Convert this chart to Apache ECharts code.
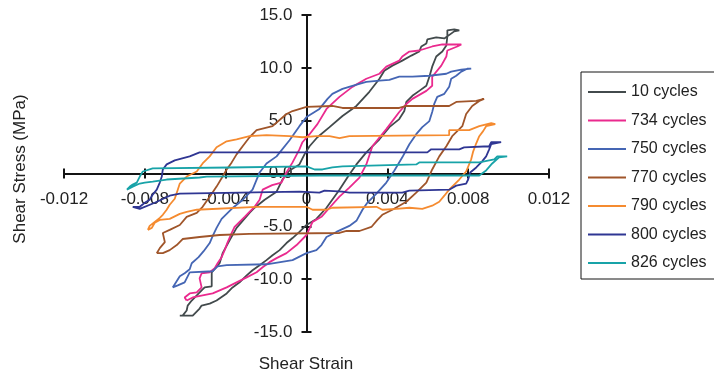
<!DOCTYPE html>
<html>
<head>
<meta charset="utf-8">
<script src="https://cdn.jsdelivr.net/npm/echarts@6/dist/echarts.min.js"></script>
<style>
  html, body { margin: 0; padding: 0; background: #ffffff; }
  #chart { width: 714px; height: 372px; }
</style>
</head>
<body>
<div id="chart"></div>
<script>
// Shear stress–strain hysteresis loops at several cycle counts.
const seriesNames = ['10 cycles', '734 cycles', '750 cycles', '770 cycles', '790 cycles', '800 cycles', '826 cycles'];

// [shear strain, shear stress (MPa)]
const loop10 = [
  [-0.00627, -13.45], [-0.00563, -13.45], [-0.00529, -12.78], [-0.00519, -12.50], [-0.00479, -12.31],
  [-0.00445, -12.02], [-0.00395, -11.35], [-0.00366, -10.78], [-0.00331, -10.30], [-0.00296, -9.64],
  [-0.00267, -9.16], [-0.00232, -8.68], [-0.00198, -8.20], [-0.00168, -7.73], [-0.00133, -7.25],
  [-0.00099, -6.58], [-0.00069, -6.11], [-0.00035, -5.53], [0.00000, -4.87], [0.00049, -4.30],
  [0.00099, -3.24], [0.00163, -1.53], [0.00212, -0.10],
  [0.00247, 0.86], [0.00296, 2.00], [0.00361, 3.24], [0.00410, 4.39], [0.00459, 5.15],
  [0.00484, 5.91], [0.00494, 6.77], [0.00524, 7.35], [0.00558, 7.82], [0.00593, 8.30],
  [0.00608, 9.16], [0.00622, 10.11], [0.00642, 11.07], [0.00672, 11.54], [0.00692, 12.12],
  [0.00697, 12.97], [0.00697, 13.55], [0.00731, 13.64], [0.00756, 13.55],
  [0.00731, 13.45], [0.00682, 12.78], [0.00642, 12.88], [0.00598, 12.69], [0.00593, 12.31],
  [0.00568, 12.02], [0.00558, 11.54], [0.00519, 11.16], [0.00474, 10.68], [0.00425, 10.21],
  [0.00385, 9.73], [0.00361, 8.97], [0.00311, 7.73], [0.00247, 6.39], [0.00178, 5.44],
  [0.00114, 4.39], [0.00054, 3.43], [0.00015, 2.58], [-0.00010, 1.81], [-0.00035, 0.86],
  [-0.00084, 0.29], [-0.00119, -0.57], [-0.00148, -1.72], [-0.00207, -2.48], [-0.00257, -3.24],
  [-0.00282, -3.72], [-0.00346, -5.15], [-0.00380, -6.30], [-0.00415, -7.54], [-0.00430, -8.49],
  [-0.00469, -9.35], [-0.00469, -10.68], [-0.00504, -10.78], [-0.00519, -11.07], [-0.00543, -11.54],
  [-0.00568, -12.02], [-0.00588, -12.50], [-0.00593, -12.97], [-0.00613, -13.45], [-0.00627, -13.45]
];

const loop734 = [
  [-0.00593, -12.02], [-0.00563, -11.73], [-0.00514, -11.54], [-0.00464, -11.35], [-0.00395, -10.78],
  [-0.00346, -10.30], [-0.00296, -9.83], [-0.00247, -9.35], [-0.00217, -8.87], [-0.00183, -8.39],
  [-0.00148, -8.01], [-0.00099, -7.54], [-0.00049, -6.77], [0.00000, -5.82], [0.00030, -4.58],
  [0.00074, -4.10], [0.00114, -3.24], [0.00163, -2.19], [0.00212, -1.34], [0.00262, -0.38],
  [0.00296, 0.86], [0.00326, 2.58], [0.00395, 4.20], [0.00459, 5.82], [0.00494, 6.58],
  [0.00524, 7.06], [0.00593, 7.82], [0.00622, 8.30], [0.00622, 9.16], [0.00667, 10.21],
  [0.00692, 11.07], [0.00697, 11.64], [0.00746, 12.02], [0.00766, 12.21],
  [0.00672, 12.21], [0.00622, 12.02], [0.00558, 11.64], [0.00509, 11.54], [0.00474, 11.07],
  [0.00459, 10.68], [0.00395, 10.11], [0.00361, 9.44], [0.00296, 8.97], [0.00227, 8.20],
  [0.00163, 7.25], [0.00099, 6.11], [0.00054, 4.67], [0.00015, 3.72], [-0.00020, 2.96],
  [-0.00035, 2.29], [-0.00069, 1.05], [-0.00099, 0.10], [-0.00124, -0.86], [-0.00170, -1.10],
  [-0.00217, -1.53], [-0.00232, -2.48], [-0.00257, -3.15], [-0.00282, -3.63],
  [-0.00306, -4.10], [-0.00331, -4.58], [-0.00356, -5.06], [-0.00370, -5.63], [-0.00390, -6.49],
  [-0.00405, -7.25], [-0.00420, -7.92], [-0.00440, -8.49], [-0.00454, -8.97], [-0.00479, -9.35],
  [-0.00519, -9.44], [-0.00529, -9.92], [-0.00519, -10.78], [-0.00543, -11.26], [-0.00578, -11.35],
  [-0.00603, -11.73], [-0.00593, -12.02]
];

const loop750 = [
  [-0.00662, -10.78], [-0.00637, -10.59], [-0.00603, -10.30], [-0.00578, -9.35], [-0.00464, -9.25],
  [-0.00440, -8.78], [-0.00395, -8.68], [-0.00198, -8.59], [-0.00069, -8.20], [0.00000, -7.54],
  [0.00049, -7.25], [0.00074, -6.77], [0.00099, -6.01], [0.00148, -5.53], [0.00212, -4.96],
  [0.00247, -4.48], [0.00277, -3.43], [0.00301, -2.77], [0.00346, -1.91], [0.00395, -0.86],
  [0.00435, 0.29], [0.00474, 1.53], [0.00509, 2.77], [0.00543, 3.72], [0.00573, 4.39],
  [0.00608, 4.96], [0.00622, 5.82], [0.00632, 6.58], [0.00647, 7.25], [0.00682, 7.54],
  [0.00706, 8.20], [0.00716, 8.97], [0.00741, 9.25], [0.00766, 9.64], [0.00795, 9.92], [0.00815, 9.92],
  [0.00766, 9.83], [0.00716, 9.64], [0.00692, 9.44], [0.00608, 9.25], [0.00524, 9.16],
  [0.00459, 9.16], [0.00410, 8.87], [0.00361, 8.78], [0.00296, 8.68], [0.00227, 8.30],
  [0.00178, 8.01], [0.00128, 7.54], [0.00104, 7.06], [0.00064, 6.11], [0.00000, 5.34],
  [-0.00035, 4.48], [-0.00084, 3.15], [-0.00148, 1.62], [-0.00198, 0.95], [-0.00232, 0.10],
  [-0.00267, -1.53], [-0.00321, -2.58], [-0.00370, -3.34], [-0.00420, -4.29], [-0.00445, -5.15],
  [-0.00464, -5.91], [-0.00479, -6.58], [-0.00509, -7.35], [-0.00534, -7.92], [-0.00568, -8.49],
  [-0.00578, -9.06], [-0.00603, -9.44], [-0.00627, -9.73], [-0.00662, -10.78]
];

const loop770 = [
  [-0.00741, -7.54], [-0.00726, -7.06], [-0.00701, -6.49], [-0.00711, -5.63], [-0.00677, -5.34],
  [-0.00627, -4.87], [-0.00593, -4.10], [-0.00543, -3.72], [-0.00514, -3.15], [-0.00479, -2.19],
  [-0.00445, -1.24], [-0.00415, -0.29], [-0.00395, 0.38], [-0.00370, 1.05], [-0.00346, 1.81],
  [-0.00316, 2.58], [-0.00282, 3.43], [-0.00247, 4.10], [-0.00168, 4.48], [-0.00099, 5.63],
  [-0.00069, 5.91], [0.00000, 6.30], [0.00128, 6.39], [0.00178, 6.20], [0.00459, 6.20],
  [0.00494, 6.39], [0.00706, 6.39], [0.00741, 6.77], [0.00840, 6.87], [0.00879, 7.06],
  [0.00855, 6.87], [0.00820, 6.39], [0.00790, 5.63], [0.00771, 4.48], [0.00721, 3.53],
  [0.00692, 2.58], [0.00657, 1.62], [0.00622, 0.38], [0.00593, -0.86], [0.00543, -1.81],
  [0.00494, -2.67], [0.00425, -3.43], [0.00375, -3.91], [0.00351, -4.39], [0.00321, -5.06],
  [0.00262, -5.44], [0.00198, -5.44], [0.00163, -5.63], [-0.00282, -5.72], [-0.00430, -5.82],
  [-0.00529, -6.01], [-0.00613, -6.20], [-0.00642, -6.77], [-0.00677, -7.25], [-0.00711, -7.54],
  [-0.00741, -7.54]
];

const loop790 = [
  [-0.00785, -5.34], [-0.00776, -4.96], [-0.00751, -4.58], [-0.00726, -4.20], [-0.00711, -3.91],
  [-0.00692, -3.43], [-0.00677, -2.96], [-0.00652, -2.39], [-0.00637, -1.53], [-0.00627, -0.95],
  [-0.00593, -0.29], [-0.00543, 0.19], [-0.00514, 0.95], [-0.00479, 1.62], [-0.00445, 2.48],
  [-0.00395, 3.05], [-0.00346, 3.24], [-0.00282, 3.53], [-0.00198, 3.63], [-0.00084, 3.53],
  [-0.00020, 3.43], [0.00049, 3.53], [0.00114, 3.53], [0.00163, 3.34], [0.00212, 3.53],
  [0.00706, 3.63], [0.00706, 4.10], [0.00805, 4.10], [0.00855, 4.48], [0.00914, 4.77],
  [0.00934, 4.67], [0.00889, 4.48], [0.00874, 4.01], [0.00855, 3.53], [0.00840, 2.86],
  [0.00825, 2.10], [0.00815, 1.34], [0.00790, 0.19], [0.00756, -0.57], [0.00731, -1.05],
  [0.00706, -1.53], [0.00682, -2.10], [0.00657, -2.67], [0.00622, -3.05], [0.00573, -3.34],
  [0.00509, -3.24], [0.00445, -3.34], [0.00375, -3.43], [0.00346, -3.15], [0.00128, -3.24],
  [0.00099, -3.43], [0.00030, -3.43], [0.00000, -3.15], [-0.00247, -3.15], [-0.00543, -3.43],
  [-0.00593, -3.63], [-0.00627, -3.82], [-0.00677, -4.29], [-0.00726, -4.39], [-0.00751, -4.67],
  [-0.00766, -5.15], [-0.00785, -5.34]
];

const loop800 = [
  [-0.00860, -3.15], [-0.00825, -3.15], [-0.00800, -2.77], [-0.00776, -2.48], [-0.00761, -2.00],
  [-0.00741, -1.53], [-0.00726, -0.86], [-0.00716, -0.29], [-0.00711, 0.38], [-0.00692, 0.86],
  [-0.00652, 1.24], [-0.00578, 1.62], [-0.00529, 2.00], [0.00598, 2.00], [0.00617, 2.29],
  [0.00756, 2.29], [0.00780, 2.48], [0.00904, 2.58], [0.00914, 2.96], [0.00963, 2.96],
  [0.00914, 2.77], [0.00904, 2.29], [0.00889, 1.62], [0.00869, 1.15], [0.00840, 0.57],
  [0.00810, 0.10], [0.00800, -0.57], [0.00790, -0.95], [0.00741, -1.15], [0.00706, -1.53],
  [0.00509, -1.62], [0.00474, -1.81], [0.00212, -1.81], [0.00178, -1.72], [0.00089, -1.62],
  [0.00064, -1.81], [-0.00035, -1.72], [-0.00627, -1.91], [-0.00677, -2.10], [-0.00751, -2.77],
  [-0.00825, -3.34], [-0.00860, -3.15]
];

const loop826 = [
  [-0.00889, -1.53], [-0.00874, -1.24], [-0.00860, -1.05], [-0.00840, -0.86], [-0.00825, -0.29],
  [-0.00810, 0.19], [-0.00761, 0.48], [-0.00380, 0.57], [0.00000, 0.67], [0.00040, 0.38],
  [0.00079, 0.38], [0.00128, 0.57], [0.00178, 0.67], [0.00543, 0.86], [0.00558, 1.05],
  [0.00855, 1.05], [0.00929, 1.34], [0.00944, 1.62], [0.00993, 1.62], [0.00953, 1.53],
  [0.00919, 0.95], [0.00889, 0.29], [0.00855, -0.19], [0.00064, -0.19], [-0.00494, -0.29],
  [-0.00529, -0.38], [-0.00692, -0.57], [-0.00761, -0.76], [-0.00800, -0.86], [-0.00825, -0.95],
  [-0.00860, -1.24], [-0.00889, -1.53]
];

const loops = [loop10, loop734, loop750, loop770, loop790, loop800, loop826];
const lineColors = ['#424a4c', '#ea2a8e', '#4566b4', '#a0552a', '#f58b30', '#2f3693', '#18a3a8'];

const strainTicks = ['-0.012', '-0.008', '-0.004', '0', '0.004', '0.008', '0.012'];
const stressTicks = ['-15.0', '-10.0', '-5.0', '0.0', '5.0', '10.0', '15.0'];

const FONT = '"Liberation Sans", Arial, sans-serif';
const TEXT_COLOR = '#222222';
const axisLineStyle = { color: '#141414', width: 2 };

// Plot box in pixels; tick labels sit next to the axis lines that cross at the origin.
const GRID = { left: 64, right: 165, top: 15, bottom: 40 };
const CHART_W = 714, CHART_H = 372;
const plotW = CHART_W - GRID.left - GRID.right;
const plotH = CHART_H - GRID.top - GRID.bottom;
const xZeroPx = GRID.left + plotW / 2;       // strain 0 at the middle of the box
const yZeroPx = GRID.top + plotH / 2;        // stress 0 at the middle of the box

function strainAxis(position, withLabels) {
  return {
    type: 'value', position: position,
    min: -0.012, max: 0.012, interval: 0.004,
    axisLine: { show: true, onZero: true, onZeroAxisIndex: 0, lineStyle: axisLineStyle },
    axisTick: { show: true, length: 5, lineStyle: axisLineStyle },
    axisLabel: {
      show: withLabels, fontSize: 17, fontFamily: FONT, color: TEXT_COLOR,
      // labels hang 17px below the zero line rather than below the box edge
      margin: 17 - (CHART_H - GRID.bottom - yZeroPx),
      formatter: (v, i) => strainTicks[i]
    },
    splitLine: { show: false }
  };
}

function stressAxis(position, withLabels) {
  return {
    type: 'value', position: position,
    min: -15, max: 15, interval: 5,
    axisLine: { show: true, onZero: true, onZeroAxisIndex: 0, lineStyle: axisLineStyle },
    axisTick: { show: true, length: 5, lineStyle: axisLineStyle },
    axisLabel: {
      show: withLabels, fontSize: 17, fontFamily: FONT, color: TEXT_COLOR,
      // labels sit 14px left of the zero line rather than left of the box edge
      margin: 14 - (xZeroPx - GRID.left),
      formatter: (v, i) => stressTicks[i]
    },
    splitLine: { show: false }
  };
}

const chart = echarts.init(document.getElementById('chart'), null, { renderer: 'canvas' });

chart.setOption({
  animation: false,
  backgroundColor: '#ffffff',
  grid: GRID,
  xAxis: [strainAxis('bottom', true), strainAxis('top', false)],
  yAxis: [stressAxis('left', true), stressAxis('right', false)],
  legend: {
    data: seriesNames,
    orient: 'vertical',
    left: 581, top: 72,
    icon: 'rect', itemWidth: 38, itemHeight: 2, itemGap: 10.5,
    padding: [11, 80, 7, 7],
    borderColor: '#141414', borderWidth: 1,
    selectedMode: false,
    textStyle: { fontSize: 16, fontFamily: FONT, color: TEXT_COLOR, lineHeight: 18 }
  },
  graphic: [
    {
      type: 'text', x: 306, y: 364,
      style: { text: 'Shear Strain', font: '17px ' + FONT, fill: TEXT_COLOR, align: 'center', verticalAlign: 'middle' }
    },
    {
      type: 'text', x: 20, y: 169, rotation: Math.PI / 2,
      style: { text: 'Shear Stress (MPa)', font: '17px ' + FONT, fill: TEXT_COLOR, align: 'center', verticalAlign: 'middle' }
    }
  ],
  series: loops.map((pts, i) => ({
    name: seriesNames[i],
    type: 'line',
    data: pts,
    showSymbol: false,
    symbol: 'none',
    color: lineColors[i],
    lineStyle: { width: 1.8, color: lineColors[i] },
    itemStyle: { color: lineColors[i] },
    silent: true
  }))
});
</script>
</body>
</html>
